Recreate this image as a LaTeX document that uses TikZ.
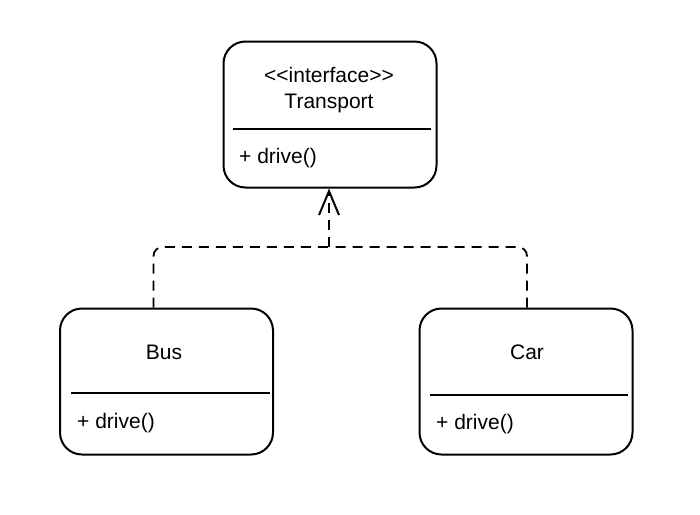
\documentclass[tikz,border=0pt]{standalone}
\usepackage{fontspec}
\setmainfont{Liberation Sans}
\usetikzlibrary{arrows.meta}

\tikzset{
  classbox/.style={draw, line width=2pt, rounded corners=22pt,
    minimum width=213pt, minimum height=146pt, inner sep=0pt},
  divider/.style={line width=2.8pt},
  ctext/.style={font=\fontsize{21}{25}\selectfont, inner sep=0pt},
  realize/.style={line width=1.8pt, dash pattern=on 10pt off 7pt,
    rounded corners=9pt},
}

\begin{document}
\begin{tikzpicture}[x=1pt,y=-1pt]
  \useasboundingbox (0,0) rectangle (700,514);

  % classes
  \node[classbox] (transport) at (330,114.5) {};
  \node[classbox] (bus) at (166.5,381.5) {};
  \node[classbox] (car) at (526,381.5) {};

  % transport
  \node[ctext] (stereo) at (329,75) {<{}<interface>{}>};
  \node[ctext] (tname) at (329,103) {Transport};
  \draw[divider] (233,129) -- (431,129);
  \node[ctext, anchor=west] (tdrive) at (239,158) {+ drive()};

  % bus
  \node[ctext] (bname) at (164,352) {Bus};
  \draw[divider] (71,393) -- (270,393);
  \node[ctext, anchor=west] (bdrive) at (77,423) {+ drive()};

  % car
  \node[ctext] (cname) at (527,352) {Car};
  \draw[divider] (430,395) -- (628,395);
  \node[ctext, anchor=west] (cdrive) at (436,424) {+ drive()};

  % realization
  \coordinate (join) at (329,247);
  \coordinate (busleg) at ([xshift=-13pt]bus.north);
  \coordinate (carleg) at ([xshift=1pt]car.north);
  \draw[realize] (busleg) |- (join);
  \draw[realize] (carleg) |- (join);
  \draw[realize, -{Straight Barb[length=24pt,width=20pt,line width=2pt]}]
    (join) -- (transport.south -| join);
\end{tikzpicture}
\end{document}
